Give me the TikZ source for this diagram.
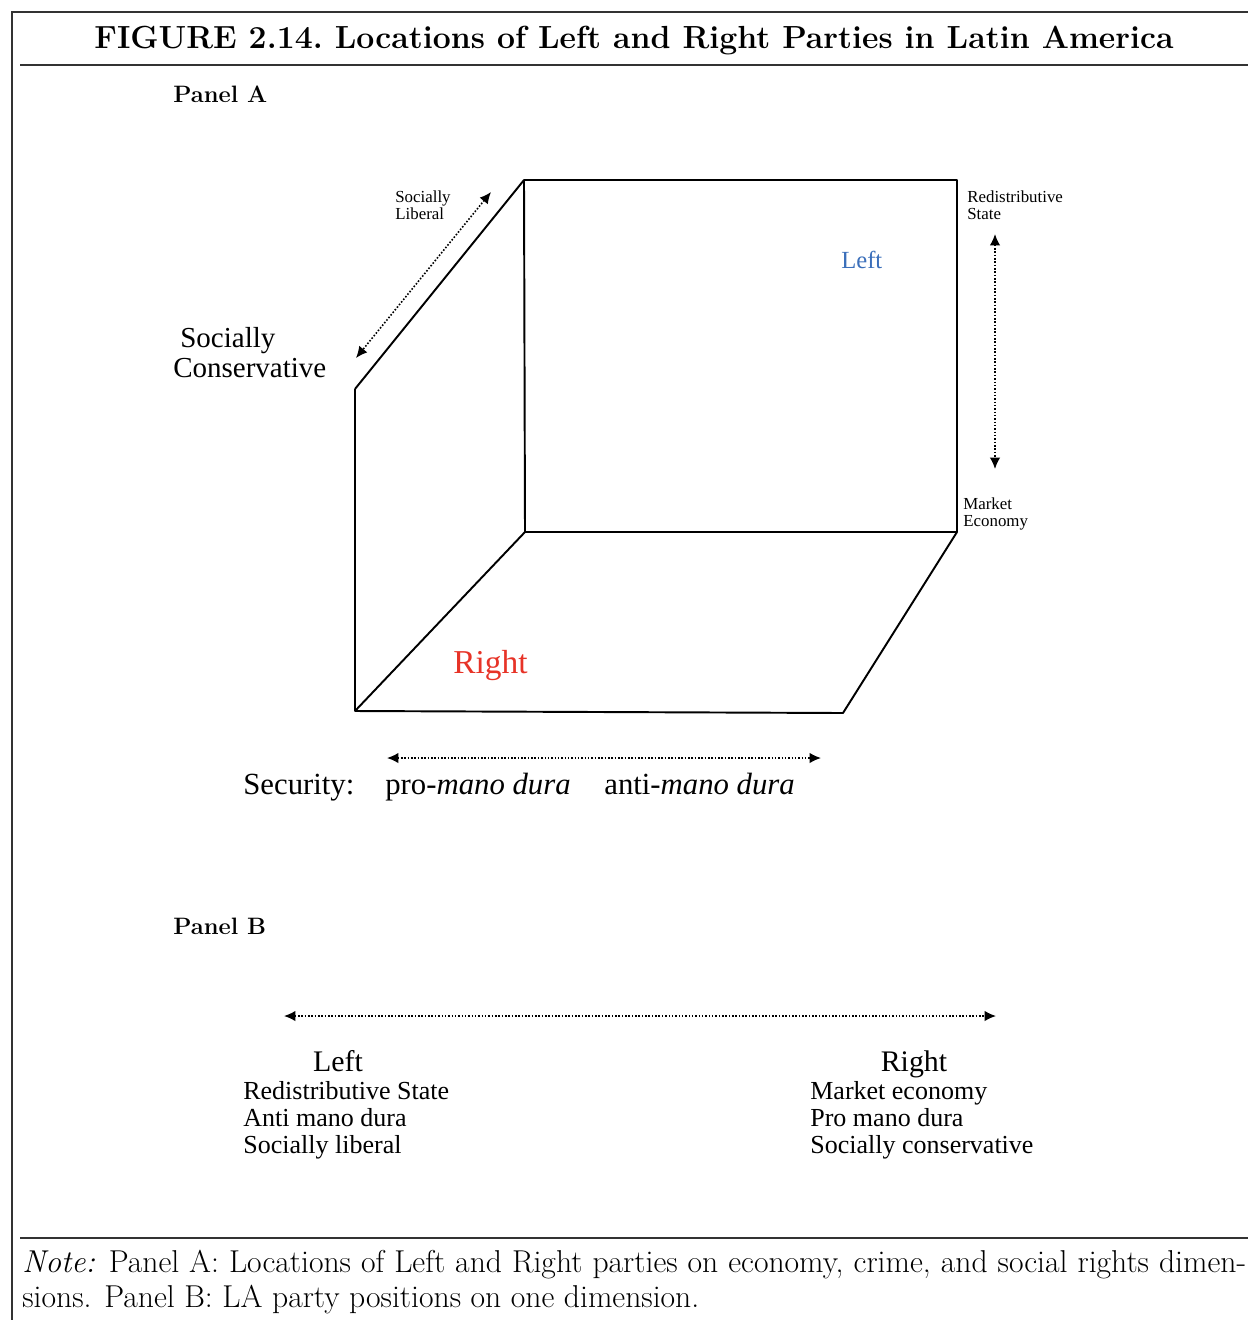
\documentclass[tikz,border=0pt]{standalone}
\usepackage{fontspec}
\newfontfamily\figfont{Liberation Serif}
\usetikzlibrary{arrows.meta}
\definecolor{leftblue}{RGB}{59,111,186}
\definecolor{rightred}{RGB}{231,51,39}

\begin{document}
\begin{tikzpicture}[x=0.02cm,y=-0.02cm,
  frame/.style={line width=0.8pt,draw=black!80},
  edge/.style={line width=1.1pt,line join=round},
  axis/.style={densely dotted,line width=0.9pt,{Latex[length=6.5pt,width=6pt]}-{Latex[length=6.5pt,width=6pt]}},
  small/.style={font=\figfont\fontsize{9.6}{10}\selectfont,align=left,anchor=north west,inner sep=0pt},
  big/.style={font=\figfont\fontsize{17.5}{17.5}\selectfont,anchor=base west,inner sep=0pt},
  list/.style={font=\figfont\fontsize{14.8}{15.4}\selectfont,anchor=base west,inner sep=0pt},
  panel/.style={font=\bfseries\fontsize{13.5}{15}\selectfont,anchor=base west,inner sep=0pt}]
\useasboundingbox (0,0) rectangle (1248,1320);

\coordinate (FrTL) at (12,12);
\coordinate (FrTR) at (1248,12);
\coordinate (FrBL) at (12,1320);
\coordinate (TiL) at (20,65);
\coordinate (TiR) at (1248,65);
\coordinate (NoL) at (20,1238);
\coordinate (NoR) at (1248,1238);
\draw[frame] (FrBL) -- (FrTL) -- (FrTR);
\draw[frame] (TiL) -- (TiR);
\draw[frame] (NoL) -- (NoR);

\node[anchor=base,inner sep=0pt,font=\bfseries\fontsize{18.2}{22}\selectfont] (title) at (634,48)
  {FIGURE 2.14.\ Locations of Left and Right Parties in Latin America};

\node[panel] (panelA) at (173,102) {Panel A};

\coordinate (BTL) at (524,180);
\coordinate (BTR) at (957,180);
\coordinate (BBR) at (957,532);
\coordinate (BBL) at (525,532);
\coordinate (FTL) at (355,389);
\coordinate (FBL) at (355,711);
\coordinate (FBR) at (843,713);
\draw[edge] (BTL) -- (BTR) -- (BBR) -- (BBL) -- cycle;
\draw[edge] (FTL) -- (BTL);
\draw[edge] (FTL) -- (FBL) -- (FBR) -- (BBR);
\draw[edge] (FBL) -- (BBL);

\coordinate (SocA) at (491,192);
\coordinate (SocB) at (356,358);
\draw[axis] (SocA) -- (SocB);
\coordinate (EcoA) at (995,234);
\coordinate (EcoB) at (995,469);
\draw[axis] (EcoA) -- (EcoB);
\coordinate (SecA) at (387,758);
\coordinate (SecB) at (821,758);
\draw[axis] (SecA) -- (SecB);

\node[small] (socLib) at (395,190) {Socially\\Liberal};
\node[small] (redist) at (967,190) {Redistributive\\State};
\node[small] (market) at (963,497) {Market\\Economy};
\node[font=\figfont\fontsize{16.5}{17}\selectfont,align=left,anchor=north west,inner sep=0pt] (socCon) at (173,327)
  {\hspace*{4pt}Socially\\Conservative};

\node[font=\figfont\fontsize{14}{14}\selectfont,anchor=base west,inner sep=0pt,text=leftblue] (leftA) at (841,268) {Left};
\node[font=\figfont\fontsize{19}{19}\selectfont,anchor=base west,inner sep=0pt,text=rightred] (rightA) at (453,673) {Right};

\node[big] (security) at (243,794) {Security:};
\node[big] (proMano) at (385,794) {pro-\textit{mano dura}};
\node[big] (antiMano) at (604,794) {anti-\textit{mano dura}};

\node[panel] (panelB) at (173,934) {Panel B};

\coordinate (OneA) at (284,1016);
\coordinate (OneB) at (996,1016);
\draw[axis] (OneA) -- (OneB);

\node[font=\figfont\fontsize{17}{17}\selectfont,anchor=base,inner sep=0pt] (leftB) at (338,1071) {Left};
\node[list] (leftL1) at (243,1099) {Redistributive State};
\node[list] (leftL2) at (243,1126) {Anti mano dura};
\node[list] (leftL3) at (243,1153) {Socially liberal};
\node[font=\figfont\fontsize{17}{17}\selectfont,anchor=base,inner sep=0pt] (rightB) at (914,1071) {Right};
\node[list] (rightL1) at (810,1099) {Market economy};
\node[list] (rightL2) at (810,1126) {Pro mano dura};
\node[list] (rightL3) at (810,1153) {Socially conservative};

\node[anchor=north west,inner sep=0pt,text width=24.48cm,align=justify,font=\fontsize{18}{20}\selectfont] (note) at (22,1250)
  {\textit{Note:} Panel A: Locations of Left and Right parties on economy, crime, and social rights dimen-\linebreak sions. Panel B: LA party positions on one dimension.};
\end{tikzpicture}
\end{document}
